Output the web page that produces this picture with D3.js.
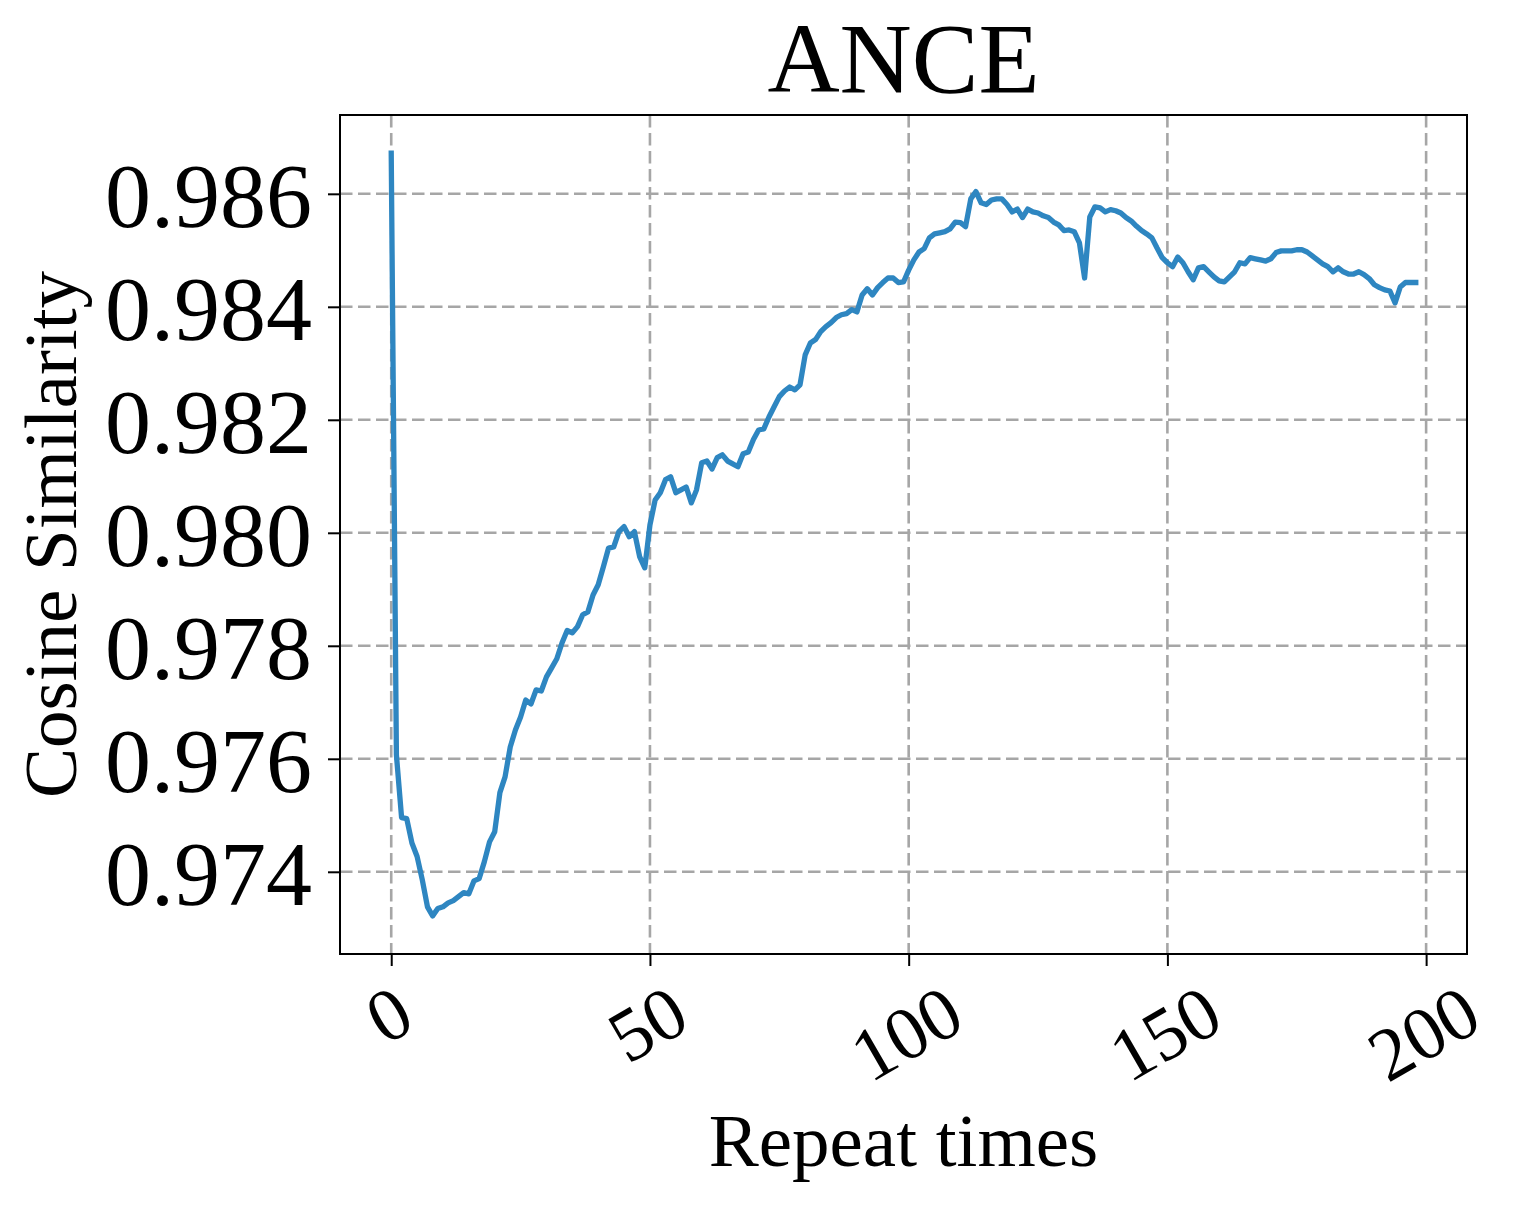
<!DOCTYPE html>
<html>
<body style="margin:0;background:white;">

<style>
    svg text {
        font-family: "Liberation Serif", "DejaVu Serif", serif;
        fill: black;
    }
    .grid line {
        stroke: #a6a6a6;
        stroke-width: 2.6;
        stroke-dasharray: 12.5 5.5;
    }
</style>

<svg id='view' width='1521' height='1207'></svg>

<script src='https://cdnjs.cloudflare.com/ajax/libs/d3/7.8.5/d3.min.js'></script>

<script>
    const title = 'ANCE';
    const xLabel = 'Repeat times';
    const yLabel = 'Cosine Similarity';
    const xTicks = [0, 50, 100, 150, 200];
    const yTicks = [0.974, 0.976, 0.978, 0.980, 0.982, 0.984, 0.986];

    // cosine similarity per repeat (0..198)
    const similarity = [
        0.98672, 0.97607, 0.97496, 0.97494, 0.97451, 0.97427, 0.97386, 0.97338, 0.97322, 0.97335,
        0.97338, 0.97345, 0.97349, 0.97356, 0.97363, 0.97361, 0.97384, 0.97388, 0.97418, 0.97453,
        0.97471, 0.97540, 0.97568, 0.97621, 0.97651, 0.97674, 0.97704, 0.97697, 0.97722, 0.97720,
        0.97745, 0.97761, 0.97777, 0.97805, 0.97827, 0.97823, 0.97834, 0.97855, 0.97860, 0.97890,
        0.97908, 0.97940, 0.97973, 0.97975, 0.98002, 0.98011, 0.97993, 0.98002, 0.97958, 0.97938,
        0.98014, 0.98058, 0.98071, 0.98094, 0.98099, 0.98071, 0.98076, 0.98081, 0.98053, 0.98076,
        0.98124, 0.98127, 0.98113, 0.98133, 0.98138, 0.98127, 0.98122, 0.98117, 0.98140, 0.98143,
        0.98165, 0.98182, 0.98184, 0.98205, 0.98223, 0.98241, 0.98251, 0.98258, 0.98253, 0.98262,
        0.98315, 0.98336, 0.98342, 0.98356, 0.98365, 0.98372, 0.98381, 0.98386, 0.98388, 0.98395,
        0.98391, 0.98421, 0.98432, 0.98421, 0.98434, 0.98443, 0.98451, 0.98451, 0.98443, 0.98444,
        0.98465, 0.98483, 0.98497, 0.98503, 0.98522, 0.98529, 0.98531, 0.98533, 0.98538, 0.98550,
        0.98549, 0.98542, 0.98591, 0.98604, 0.98584, 0.98581, 0.98589, 0.98591, 0.98591, 0.98581,
        0.98568, 0.98573, 0.98558, 0.98573, 0.98568, 0.98566, 0.98561, 0.98558, 0.98550, 0.98545,
        0.98535, 0.98536, 0.98533, 0.98513, 0.98451, 0.98559, 0.98577, 0.98575, 0.98568, 0.98572,
        0.98570, 0.98566, 0.98558, 0.98552, 0.98543, 0.98535, 0.98529, 0.98522, 0.98504, 0.98487,
        0.98478, 0.98471, 0.98488, 0.98478, 0.98462, 0.98448, 0.98469, 0.98471, 0.98462, 0.98453,
        0.98446, 0.98444, 0.98453, 0.98462, 0.98478, 0.98476, 0.98487, 0.98485, 0.98483, 0.98481,
        0.98485, 0.98496, 0.98499, 0.98499, 0.98499, 0.98501, 0.98501, 0.98497, 0.98490, 0.98483,
        0.98476, 0.98471, 0.98462, 0.98469, 0.98462, 0.98458, 0.98458, 0.98462, 0.98457, 0.98450,
        0.98439, 0.98434, 0.98430, 0.98428, 0.98407, 0.98435, 0.98443, 0.98443, 0.98443
    ];

    const plotLeft = 340, plotRight = 1467, plotTop = 115, plotBottom = 954;
    const svg = d3.select('#view');

    // matplotlib-like 5% margins around the data
    const n = similarity.length;
    const xPad = (n - 1) * 0.05;
    const [yMin, yMax] = d3.extent(similarity);
    const yPad = (yMax - yMin) * 0.05;

    const x = d3.scaleLinear().domain([-xPad, n - 1 + xPad]).range([plotLeft, plotRight]);
    const y = d3.scaleLinear().domain([yMin - yPad, yMax + yPad]).range([plotBottom, plotTop]);

    // grid
    const grid = svg.append('g').attr('class', 'grid');
    grid.selectAll('.gx').data(xTicks).enter().append('line')
        .attr('x1', d => x(d)).attr('x2', d => x(d))
        .attr('y1', plotTop).attr('y2', plotBottom);
    grid.selectAll('.gy').data(yTicks).enter().append('line')
        .attr('x1', plotLeft).attr('x2', plotRight)
        .attr('y1', d => y(d)).attr('y2', d => y(d));

    // line
    const line = d3.line()
        .x((d, i) => x(i))
        .y(d => y(d));
    svg.append('path')
        .datum(similarity)
        .attr('d', line)
        .attr('fill', 'none')
        .attr('stroke', '#2e86c1')
        .attr('stroke-width', 5.3)
        .attr('stroke-linejoin', 'round')
        .attr('stroke-linecap', 'square');

    // frame
    svg.append('rect')
        .attr('x', plotLeft).attr('y', plotTop)
        .attr('width', plotRight - plotLeft).attr('height', plotBottom - plotTop)
        .attr('fill', 'none').attr('stroke', 'black').attr('stroke-width', 2);

    // y axis
    const yAxis = svg.append('g')
        .attr('transform', `translate(${plotLeft},0)`)
        .call(d3.axisLeft(y).tickValues(yTicks).tickFormat(d3.format('.3f')).tickSize(12).tickPadding(16));
    yAxis.select('.domain').remove();
    yAxis.selectAll('.tick line').attr('stroke', 'black').attr('stroke-width', 2);
    yAxis.selectAll('.tick text')
        .attr('font-size', 92)
        .attr('dy', '0.36em')
        .attr('font-family', '"Liberation Serif", serif');

    // x axis with labels rotated 30 degrees
    const xAxis = svg.append('g')
        .attr('transform', `translate(0,${plotBottom})`)
        .call(d3.axisBottom(x).tickValues(xTicks).tickSize(12).tickFormat(d3.format('d')));
    xAxis.select('.domain').remove();
    xAxis.selectAll('.tick line').attr('stroke', 'black').attr('stroke-width', 2);
    const tickFont = 75;
    const rot = 30 * Math.PI / 180;
    xAxis.selectAll('.tick text')
        .attr('font-size', tickFont)
        .attr('font-family', '"Liberation Serif", serif')
        .attr('text-anchor', 'middle')
        .attr('dy', '0.34em')
        .each(function() {
            const w = this.getComputedTextLength();
            const h = tickFont * 0.68;
            const half = (w * Math.sin(rot) + h * Math.cos(rot)) / 2;
            const cy = 29 + half;
            d3.select(this)
                .attr('y', cy)
                .attr('x', -3)
                .attr('transform', `rotate(-30, -3, ${cy})`);
        });

    // labels
    svg.append('text')
        .attr('x', (plotLeft + plotRight) / 2).attr('y', 92)
        .attr('text-anchor', 'middle')
        .attr('font-size', 100)
        .text(title);

    svg.append('text')
        .attr('x', (plotLeft + plotRight) / 2).attr('y', 1166)
        .attr('text-anchor', 'middle')
        .attr('font-size', 75)
        .text(xLabel);

    svg.append('text')
        .attr('transform', `translate(76,${(plotTop + plotBottom) / 2}) rotate(-90)`)
        .attr('text-anchor', 'middle')
        .attr('font-size', 75)
        .text(yLabel);
</script>

</body>
</html>
